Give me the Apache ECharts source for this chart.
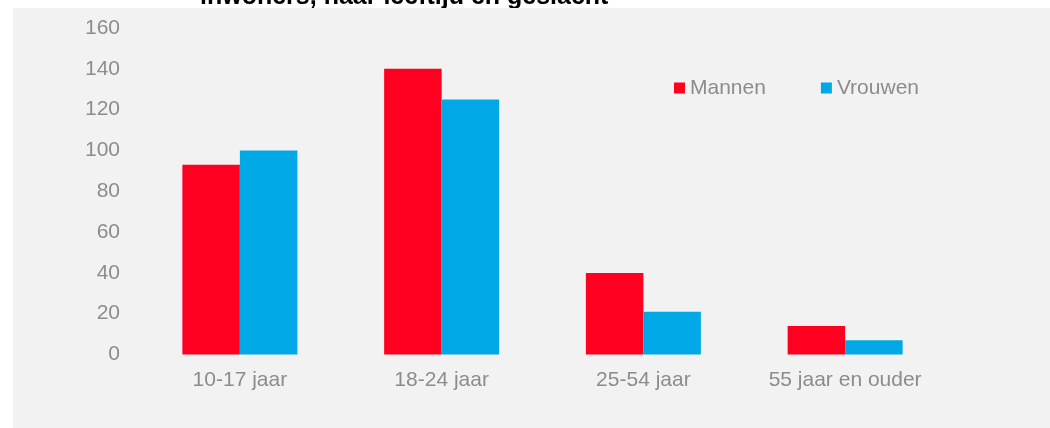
<!DOCTYPE html>
<html>
<head>
<meta charset="utf-8">
<script src="https://cdn.jsdelivr.net/npm/echarts@6/dist/echarts.min.js"></script>
<style>
  html, body { margin: 0; padding: 0; background: #ffffff; }
  #chart { width: 1050px; height: 428px; }
</style>
</head>
<body>
<div id="chart"></div>
<script>
var categories = ['10-17 jaar', '18-24 jaar', '25-54 jaar', '55 jaar en ouder'];
var mannen = [93, 140, 40, 14];
var vrouwen = [100, 125, 21, 7];
var yTicks = [0, 20, 40, 60, 80, 100, 120, 140, 160];

var labelColor = '#8c8c8c';
var font = 'Liberation Sans, Arial, sans-serif';

var option = {
  backgroundColor: '#ffffff',
  animation: false,
  title: {
    text: 'inwoners, naar leeftijd en geslacht',
    left: 195,
    top: -20,
    z: 1,
    textStyle: {
      fontFamily: font,
      fontWeight: 'bold',
      fontSize: 25,
      color: '#000000'
    }
  },
  graphic: [
    {
      type: 'rect',
      z: 8,
      silent: true,
      shape: { x: 13, y: 8, width: 1037, height: 420 },
      style: { fill: '#f2f2f2' }
    }
  ],
  legend: {
    data: ['Mannen', 'Vrouwen'],
    left: 669,
    top: 72.5,
    z: 20,
    itemWidth: 11,
    itemHeight: 11,
    itemGap: 55,
    icon: 'rect',
    textStyle: { fontFamily: font, fontSize: 21, color: labelColor }
  },
  grid: {
    left: 139,
    right: 104,
    top: 28,
    bottom: 73.5,
    containLabel: false
  },
  xAxis: {
    type: 'category',
    data: categories,
    z: 20,
    axisLine: { show: false },
    axisTick: { show: false },
    axisLabel: { fontFamily: font, fontSize: 21, color: labelColor, margin: 15 }
  },
  yAxis: {
    type: 'value',
    min: yTicks[0],
    max: yTicks[yTicks.length - 1],
    interval: 20,
    z: 20,
    splitLine: { show: false },
    axisLine: { show: false },
    axisTick: { show: false },
    axisLabel: { fontFamily: font, fontSize: 21, color: labelColor, margin: 19 }
  },
  series: [
    {
      name: 'Mannen',
      type: 'bar',
      data: mannen,
      z: 20,
      barGap: '0%',
      barCategoryGap: '43%',
      itemStyle: { color: '#ff0020' }
    },
    {
      name: 'Vrouwen',
      type: 'bar',
      data: vrouwen,
      z: 20,
      barGap: '0%',
      barCategoryGap: '43%',
      itemStyle: { color: '#00a9e6' }
    }
  ]
};

echarts.init(document.getElementById('chart')).setOption(option);
</script>
</body>
</html>
